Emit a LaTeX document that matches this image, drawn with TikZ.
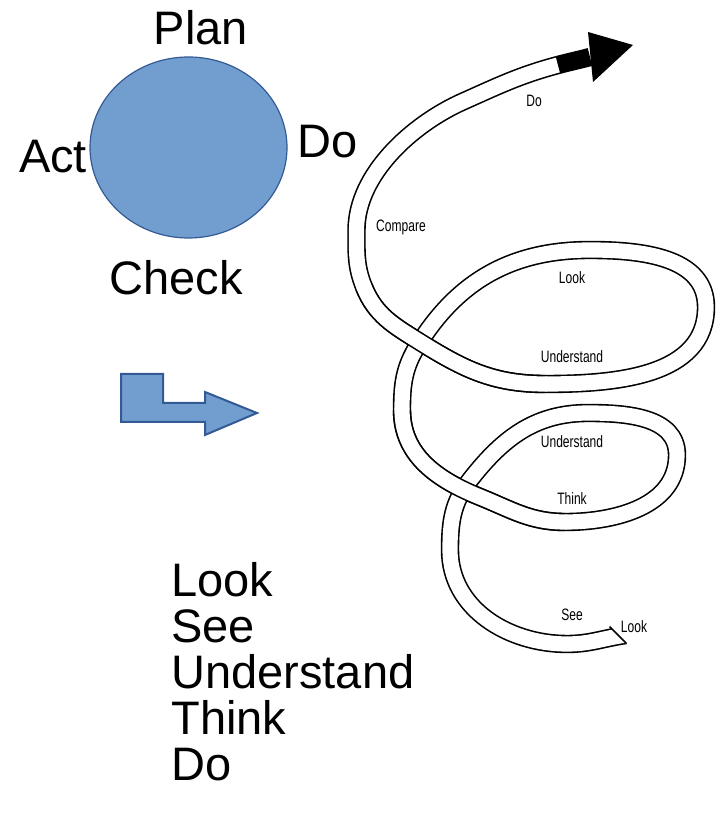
\documentclass[tikz,border=0pt]{standalone}
\usepackage{fontspec}
\setmainfont{Liberation Sans}
\newfontfamily\narrowfont[FakeStretch=0.73]{Liberation Sans}
\usepackage{tikz}
\usetikzlibrary{shapes.geometric,positioning}
\definecolor{pdcafill}{RGB}{114,158,207}
\definecolor{pdcaline}{RGB}{52,90,150}

\begin{document}
\begin{tikzpicture}[x=0.5pt, y=0.5pt]

% Define styles
\tikzstyle{pdca} = [ellipse, draw=pdcaline, fill=pdcafill, line width=0.6pt, minimum width=98.5pt, minimum height=90.5pt, inner sep=0pt]
\tikzstyle{biglabel} = [font=\fontsize{23.5}{28}\selectfont, inner sep=0pt]
\tikzstyle{spirallabel} = [font=\narrowfont\fontsize{8.25}{10}\selectfont, inner sep=0pt, text height=6pt, text depth=0pt]
\tikzstyle{band} = [draw=black, line width=0.8pt, double=white, double distance=7.6pt]
\tikzstyle{bandedge} = [draw=black, line width=9.2pt]
\tikzstyle{bandfill} = [draw=white, line width=7.6pt, line cap=round]
\tikzstyle{bendarrow} = [draw=pdcaline, fill=pdcafill, line width=1pt, line join=miter]

\path[fill=white, use as bounding box] (0,0) rectangle (720,830);

% Cycle
\node[pdca] (pdca) at (188.5,682.5) {};
\node[biglabel, anchor=base] (plan) at (201,785) {Plan};
\node[biglabel, anchor=base] (do) at (328,672) {Do};
\node[biglabel, anchor=base] (act) at (53,657) {Act};
\node[biglabel, anchor=base] (check) at (176,535) {Check};

% Bent arrow
\draw[bendarrow] (121,456) -- (163,456) -- (163,427) -- (205,427) -- (205,438) -- (257,417) -- (205,395) -- (205,408) -- (121,408) -- cycle;

% List
\node[biglabel, anchor=base west] (look) at (171,233) {Look};
\node[biglabel, below=22.9pt of look.base west, anchor=base west] (see) {See};
\node[biglabel, below=22.9pt of see.base west, anchor=base west] (understand) {Understand};
\node[biglabel, below=22.9pt of understand.base west, anchor=base west] (think) {Think};
\node[biglabel, below=22.9pt of think.base west, anchor=base west] (dolist) {Do};

% Spiral points
\coordinate (t0) at (626,195);
\coordinate (t1) at (567,186);
\coordinate (t2) at (450,280);
\coordinate (t3) at (470,350);
\coordinate (t4) at (588,417);
\coordinate (t5) at (677,375);
\coordinate (t6) at (565,308);
\coordinate (t7) at (480,333);
\coordinate (t8) at (402,420);
\coordinate (t9) at (418,485);
\coordinate (t10) at (590,580);
\coordinate (t11) at (706,523);
\coordinate (t12) at (545,446);
\coordinate (t13) at (420,488);
\coordinate (t14) at (364,543);
\coordinate (t15) at (356.5,600);
\coordinate (t16) at (463,728.5);
\coordinate (t17) at (558,765);
\coordinate (t18) at (590,773);
\coordinate (headtop) at (588,798);
\coordinate (headtip) at (633,785);
\coordinate (headbot) at (593,748);

% Spiral band
\draw[band] (t0) to[out=188,in=0] (t1) to[out=180,in=270] (t2) to[out=90,in=232] (t3)
  to[out=52,in=180] (t4) to[out=0,in=90] (t5) to[out=270,in=0] (t6)
  to[out=180,in=-22] (t7) to[out=158,in=270] (t8) to[out=90,in=238] (t9)
  to[out=58,in=180] (t10) to[out=0,in=90] (t11) to[out=270,in=0] (t12)
  to[out=180,in=-32] (t13) to[out=148,in=292] (t14) to[out=112,in=270] (t15)
  to[out=90,in=204,looseness=0.85] (t16) to[out=24,in=195] (t17);
% strands on top at the crossings
\draw[bandedge] (t6) to[out=180,in=-22] (t7) to[out=158,in=270] (t8);
\draw[bandfill] (t6) to[out=180,in=-22] (t7) to[out=158,in=270] (t8);
\draw[bandedge] (t12) to[out=180,in=-32] (t13) to[out=148,in=292] (t14);
\draw[bandfill] (t12) to[out=180,in=-32] (t13) to[out=148,in=292] (t14);
% head
\draw[line width=9.2pt] (t17) to[out=15,in=195] (t18);
\fill (headtop) -- (headtip) -- (headbot) -- cycle;
% tail cut
\fill[white] (608,205) -- (645,205) -- (645,178) -- (635,178) -- cycle;
\draw[line width=0.8pt] (609.6,203.4) -- (626.4,186.6);

% Spiral labels
\node[spirallabel] (lbldo) at (534,729) {Do};
\node[spirallabel] (lblcompare) at (401,604) {Compare};
\node[spirallabel] (lbllookmid) at (572,552) {Look};
\node[spirallabel] (lblundermid) at (572,473) {Understand};
\node[spirallabel] (lblunderlow) at (572,388) {Understand};
\node[spirallabel] (lblthink) at (572,331) {Think};
\node[spirallabel] (lblsee) at (572,215) {See};
\node[spirallabel] (lbllooktail) at (634,203) {Look};

\end{tikzpicture}
\end{document}
